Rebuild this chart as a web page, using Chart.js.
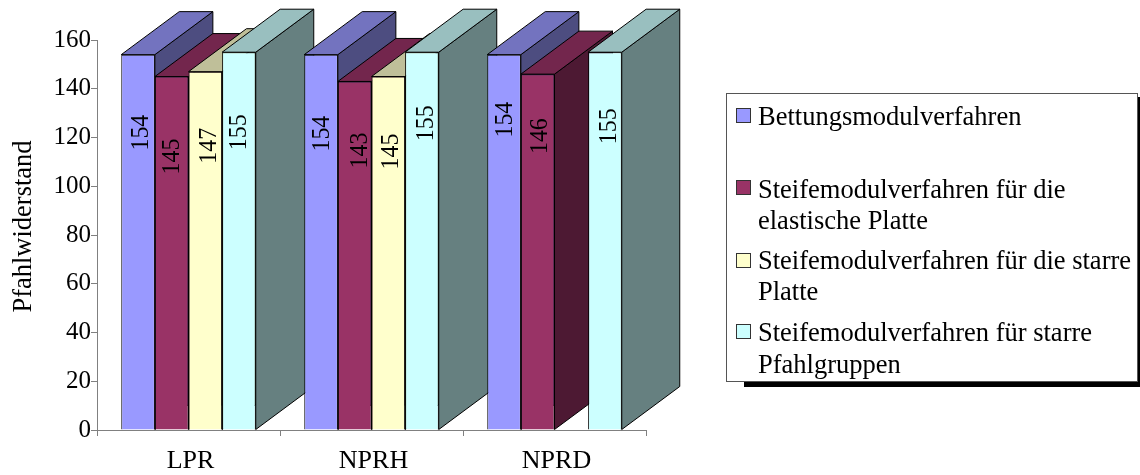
<!DOCTYPE html>
<html>
<head>
<meta charset="utf-8">
<style>
html, body { margin: 0; padding: 0; background: #fff; }
#wrap { width: 1140px; height: 475px; position: relative; }
</style>
<script src="https://cdn.jsdelivr.net/npm/chart.js@4/dist/chart.umd.min.js"></script>
</head>
<body>
<div id="wrap"><canvas id="chart" width="1140" height="475"></canvas></div>
<script>
const categories = ["LPR", "NPRH", "NPRD"];
const seriesNames = [
    "Bettungsmodulverfahren",
    "Steifemodulverfahren für die elastische Platte",
    "Steifemodulverfahren für die starre Platte",
    "Steifemodulverfahren für starre Pfahlgruppen"
];
const bettung = [154, 154, 154];
const steifeElastisch = [145, 143, 146];
const steifeStarr = [147, 145, null];
const steifeGruppe = [155, 155, 155];
const yTicks = [0, 20, 40, 60, 80, 100, 120, 140, 160];
const yTitle = "Pfahlwiderstand";

const frontColors = ["#9999ff", "#993366", "#ffffcc", "#ccffff"];
const topColors = ["#7373bf", "#73264d", "#bfbf99", "#99bfbf"];
const sideColors = ["#4d4d80", "#4d1933", "#808066", "#668080"];
const legendLines = [
    ["Bettungsmodulverfahren"],
    ["Steifemodulverfahren für die", "elastische Platte"],
    ["Steifemodulverfahren für die starre", "Platte"],
    ["Steifemodulverfahren für starre", "Pfahlgruppen"]
];
const FONT = '"Liberation Serif"';

// depth of the fake 3d bars
const DX = 58, DY = 43;

// value label placement per series and category: drop below bar top, sideways nudge
const labelDrop = [[78, 79, 65], [80, 69, 62], [74, 75, 0], [80, 71, 74]];
const labelNudge = [[2, 0, 0], [-1, 4, 1], [3, 2, 0], [-1, 3, 3]];

function poly(ctx, pts, fill) {
    ctx.beginPath();
    ctx.moveTo(pts[0][0], pts[0][1]);
    for (let i = 1; i < pts.length; i++) ctx.lineTo(pts[i][0], pts[i][1]);
    ctx.closePath();
    ctx.fillStyle = fill;
    ctx.fill();
    ctx.strokeStyle = "#000";
    ctx.lineWidth = 1;
    ctx.stroke();
}

const bars3d = {
    id: "bars3d",
    beforeDatasetDraw() { return false; },
    afterDatasetsDraw(chart) {
        const ctx = chart.ctx;
        ctx.save();
        categories.forEach(function (c, i) {
            chart.data.datasets.forEach(function (ds, s) {
                if (ds.data[i] === null) return;
                const bar = chart.getDatasetMeta(s).data[i];
                const p = bar.getProps(["x", "y", "base", "width"], true);
                const l = p.x - p.width / 2, r = p.x + p.width / 2;
                poly(ctx, [[r, p.y], [r + DX, p.y - DY], [r + DX, p.base - DY], [r, p.base]], sideColors[s]);
                poly(ctx, [[l, p.y], [l + DX, p.y - DY], [r + DX, p.y - DY], [r, p.y]], topColors[s]);
                bar.draw(ctx);
            });
        });
        // value labels, rotated and a bit condensed like the original
        ctx.fillStyle = "#000";
        ctx.font = "26px " + FONT;
        ctx.textAlign = "center";
        ctx.textBaseline = "middle";
        chart.data.datasets.forEach(function (ds, s) {
            ds.data.forEach(function (v, i) {
                if (v === null) return;
                const bar = chart.getDatasetMeta(s).data[i];
                ctx.save();
                ctx.translate(bar.x + labelNudge[s][i], bar.y + labelDrop[s][i]);
                ctx.rotate(-Math.PI / 2);
                ctx.scale(0.92, 1);
                ctx.fillText(String(v), 0, 1);
                ctx.restore();
            });
        });
        ctx.restore();
    },
    afterDraw(chart) {
        const ctx = chart.ctx;
        ctx.save();
        // axis title sits above the centre of the axis
        ctx.fillStyle = "#000";
        ctx.font = "26.5px " + FONT;
        ctx.textAlign = "center";
        ctx.textBaseline = "middle";
        ctx.save();
        ctx.translate(24, 226.5);
        ctx.rotate(-Math.PI / 2);
        ctx.fillText(yTitle, 0, 0);
        ctx.restore();
        // legend frame with hard shadow
        ctx.fillStyle = "#000";
        ctx.fillRect(744, 381, 396, 6);
        ctx.fillRect(1138, 97, 2, 290);
        ctx.fillStyle = "#fff";
        ctx.fillRect(727, 93, 411, 288);
        ctx.strokeStyle = "#555";
        ctx.lineWidth = 1;
        ctx.strokeRect(726.5, 93.5, 411, 288);
        const swatchY = [108, 180, 253, 324];
        const lineY = [[125], [198, 229], [269, 300], [341, 373]];
        ctx.font = "26.5px " + FONT;
        ctx.textAlign = "left";
        ctx.textBaseline = "alphabetic";
        legendLines.forEach(function (lines, s) {
            ctx.fillStyle = frontColors[s];
            ctx.fillRect(736.5, swatchY[s] + 0.5, 14, 14);
            ctx.strokeStyle = "#333";
            ctx.strokeRect(736.5, swatchY[s] + 0.5, 14, 14);
            ctx.fillStyle = "#000";
            lines.forEach(function (t, k) { ctx.fillText(t, 758, lineY[s][k]); });
        });
        ctx.restore();
    }
};

const sets = [bettung, steifeElastisch, steifeStarr, steifeGruppe];

new Chart(document.getElementById("chart"), {
    type: "bar",
    plugins: [bars3d],
    data: {
        labels: categories,
        datasets: sets.map(function (d, s) {
            return {
                label: seriesNames[s],
                data: d,
                backgroundColor: frontColors[s],
                borderColor: "#000",
                borderWidth: 1
            };
        })
    },
    options: {
        responsive: false,
        animation: false,
        layout: { padding: { left: 0, top: 40, right: 494, bottom: 0 } },
        plugins: { legend: { display: false }, tooltip: { enabled: false } },
        datasets: { bar: { barPercentage: 1, categoryPercentage: 0.735 } },
        scales: {
            x: {
                afterFit(scale) { scale.height = 45; },
                border: { color: "#808080" },
                grid: { drawOnChartArea: false, tickLength: 6, color: "#808080" },
                ticks: { color: "#000", font: { family: FONT, size: 26 }, padding: 10, maxRotation: 0, labelOffset: 2 }
            },
            y: {
                min: 0,
                max: 160,
                afterFit(scale) { scale.width = 97; },
                afterBuildTicks(scale) { scale.ticks = yTicks.map(function (v) { return { value: v }; }); },
                border: { color: "#808080" },
                grid: { drawOnChartArea: false, tickLength: 6, color: "#808080" },
                ticks: { color: "#000", font: { family: FONT, size: 25 }, padding: 0 }
            }
        }
    }
});
</script>
</body>
</html>
